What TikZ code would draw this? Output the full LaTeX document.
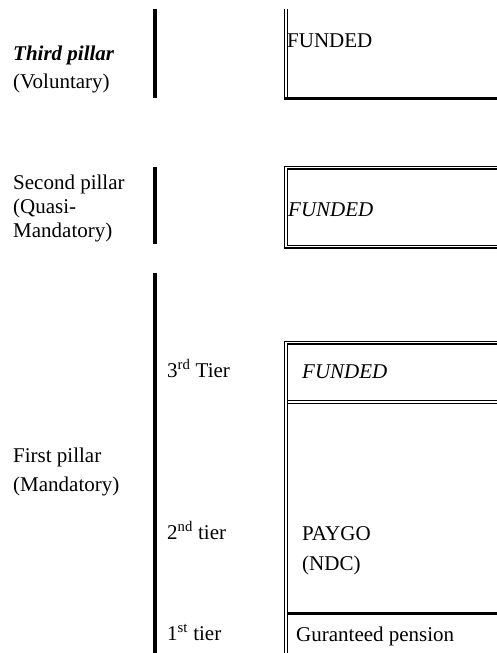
\documentclass[tikz,border=0pt]{standalone}
\usepackage{fontspec}
\setmainfont{Liberation Serif}
\begin{document}
\begin{tikzpicture}[x=1pt,y=-1pt,
  lbl/.style={anchor=base west,inner sep=0pt,font=\fontsize{21}{24}\selectfont},
  pillarbar/.style={line width=4pt},
  dblline/.style={double,line width=1.2pt,double distance=1.6pt},
  heavyline/.style={line width=2.6pt}]
\useasboundingbox (0,0) rectangle (497,653);
\clip (0,0) rectangle (497,653);
% coordinates
\coordinate (b1t) at (155,9);   \coordinate (b1b) at (155,98);
\coordinate (b2t) at (155,167); \coordinate (b2b) at (155,244);
\coordinate (b3t) at (155,273); \coordinate (b3b) at (155,660);
\draw[pillarbar] (b1t) -- (b1b);
\draw[pillarbar] (b2t) -- (b2b);
\draw[pillarbar] (b3t) -- (b3b);
% box 1 (third pillar)
\coordinate (x1t) at (286,9); \coordinate (x1b) at (286,100);
\coordinate (x1bl) at (285,98.7); \coordinate (x1br) at (505,98.7);
\draw[dblline] (x1t) -- (x1b);
\draw[heavyline] (x1bl) -- (x1br);
% box 2 (second pillar)
\coordinate (x2a) at (286,167.5); \coordinate (x2b) at (510,246.5);
\draw[dblline] (x2a) rectangle (x2b);
% box 3 (first pillar)
\coordinate (x3tl) at (286,342.5); \coordinate (x3tr) at (505,342.5);
\coordinate (x3bl) at (286,660);
\draw[dblline] (x3bl) -- (x3tl) -- (x3tr);
\coordinate (s1l) at (287.5,402); \coordinate (s1r) at (505,402);
\draw[dblline] (s1l) -- (s1r);
\coordinate (s2l) at (287.5,613.5); \coordinate (s2r) at (505,613.5);
\draw[heavyline] (s2l) -- (s2r);
% texts
\node[lbl] (tp) at (13,60) {\textbf{\textit{Third pillar}}};
\node[lbl] (vol) at (13,88) {(Voluntary)};
\node[lbl] (f1) at (287,47) {FUNDED};
\node[lbl] (sp) at (13,189) {Second pillar};
\node[lbl] (qm) at (13,213) {(Quasi-};
\node[lbl] (md) at (13,237) {Mandatory)};
\node[lbl] (f2) at (288,216) {\textit{FUNDED}};
\node[lbl] (t3) at (167,377) {3\textsuperscript{rd} Tier};
\node[lbl] (f3) at (302,378) {\textit{FUNDED}};
\node[lbl] (fp) at (13,462) {First pillar};
\node[lbl] (mand) at (13,491) {(Mandatory)};
\node[lbl] (t2) at (167,539) {2\textsuperscript{nd} tier};
\node[lbl] (pg) at (302,540) {PAYGO};
\node[lbl] (ndc) at (302,570) {(NDC)};
\node[lbl] (t1) at (167,640) {1\textsuperscript{st} tier};
\node[lbl] (gp) at (296,641) {Guranteed pension};
\end{tikzpicture}
\end{document}
